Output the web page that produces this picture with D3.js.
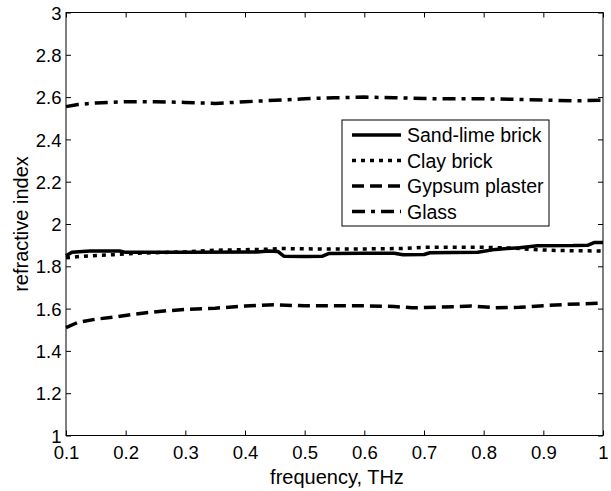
<!DOCTYPE html>
<html>
<head>
<meta charset="utf-8">
<script src="https://cdn.jsdelivr.net/npm/d3@7"></script>
<style>
html,body{margin:0;padding:0;background:#fff;}
text{font-family:"Liberation Sans",Arial,Helvetica,sans-serif;fill:#000;}
</style>
</head>
<body>
<svg id="chart" width="611" height="491"></svg>
<script>
// ---- data ----
const sandLimeX = [0.100,0.110,0.140,0.190,0.200,0.300,0.420,0.440,0.455,0.465,0.500,0.530,0.540,0.600,0.650,0.665,0.700,0.710,0.790,0.820,0.860,0.890,0.950,0.975,0.985,1.000];
const sandLimeY = [1.850,1.866,1.872,1.872,1.866,1.866,1.868,1.872,1.870,1.848,1.846,1.848,1.860,1.862,1.862,1.855,1.856,1.864,1.866,1.880,1.888,1.897,1.898,1.900,1.912,1.912];

const clayX = [0.10,0.13,0.18,0.22,0.30,0.35,0.43,0.46,0.52,0.60,0.66,0.70,0.80,0.85,0.88,0.92,1.00];
const clayY = [1.840,1.848,1.855,1.862,1.868,1.876,1.880,1.884,1.882,1.882,1.884,1.890,1.890,1.886,1.880,1.875,1.872];

const gypsumX = [0.10,0.12,0.15,0.18,0.21,0.24,0.27,0.30,0.35,0.40,0.45,0.50,0.55,0.60,0.65,0.68,0.72,0.78,0.82,0.86,0.90,0.94,1.00];
const gypsumY = [1.510,1.535,1.550,1.560,1.572,1.582,1.590,1.596,1.602,1.612,1.618,1.613,1.613,1.613,1.610,1.604,1.606,1.612,1.604,1.606,1.614,1.620,1.626];

const glassX = [0.10,0.12,0.15,0.20,0.25,0.30,0.35,0.40,0.45,0.50,0.55,0.60,0.65,0.70,0.75,0.80,0.85,0.90,0.95,1.00];
const glassY = [2.555,2.565,2.572,2.578,2.578,2.575,2.570,2.578,2.585,2.592,2.597,2.600,2.597,2.593,2.592,2.592,2.590,2.586,2.582,2.586];

const seriesNames = ["Sand-lime brick","Clay brick","Gypsum plaster","Glass"];
const xTicks = [0.1,0.2,0.3,0.4,0.5,0.6,0.7,0.8,0.9,1];
const yTicks = [1,1.2,1.4,1.6,1.8,2,2.2,2.4,2.6,2.8,3];
const xLabel = "frequency, THz";
const yLabel = "refractive index";

// ---- layout ----
const L = 66, R = 603, T = 12.5, B = 435.5;
const svg = d3.select("#chart");
const x = d3.scaleLinear().domain([0.1,1]).range([L,R]);
const y = d3.scaleLinear().domain([1,3]).range([B,T]);

const dashes = [null, "4,5", "12,6", "13,6,4,6"];
const data = [
  d3.zip(sandLimeX, sandLimeY),
  d3.zip(clayX, clayY),
  d3.zip(gypsumX, gypsumY),
  d3.zip(glassX, glassY)
];

// frame
svg.append("rect").attr("x",L).attr("y",T).attr("width",R-L).attr("height",B-T)
  .attr("fill","none").attr("stroke","#000").attr("stroke-width",1);

const fmt = d => String(+d.toFixed(1));
const tickFont = "18.5px";
// axes (ticks inward)
const gxB = svg.append("g").attr("transform",`translate(0,${B})`)
  .call(d3.axisBottom(x).tickValues(xTicks).tickSize(-5).tickPadding(0).tickFormat(fmt));
const gxT = svg.append("g").attr("transform",`translate(0,${T})`)
  .call(d3.axisTop(x).tickValues(xTicks).tickSize(-5).tickFormat(""));
const gyL = svg.append("g").attr("transform",`translate(${L},0)`)
  .call(d3.axisLeft(y).tickValues(yTicks).tickSize(-5).tickFormat(fmt));
const gyR = svg.append("g").attr("transform",`translate(${R},0)`)
  .call(d3.axisRight(y).tickValues(yTicks).tickSize(-5).tickFormat(""));
[gxB,gxT,gyL,gyR].forEach(g=>{
  g.select(".domain").remove();
  g.selectAll(".tick line").attr("stroke","#000").attr("stroke-width",1);
});
gxB.selectAll(".tick text").attr("y",23).attr("dy",null)
  .style("font-size",tickFont).style("font-family",'"Liberation Sans",Arial,sans-serif').attr("fill","#000");
gyL.selectAll(".tick text").attr("x",-4.5).attr("dy","0.36em")
  .style("font-size",tickFont).style("font-family",'"Liberation Sans",Arial,sans-serif').attr("fill","#000");

// lines
const line = d3.line().x(d=>x(d[0])).y(d=>y(d[1]));
data.forEach((d,i)=>{
  svg.append("path").datum(d).attr("d",line)
    .attr("fill","none").attr("stroke","#000").attr("stroke-width",3.5)
    .attr("stroke-linecap","butt").attr("stroke-linejoin","round")
    .attr("stroke-dasharray",dashes[i]);
});

// axis labels
svg.append("text").attr("x",337).attr("y",484).attr("text-anchor","middle")
  .style("font-size","20px").text(xLabel);
svg.append("text").attr("transform",`translate(27.5,${(T+B)/2}) rotate(-90)`)
  .attr("text-anchor","middle").style("font-size","20px").text(yLabel);

// legend
const lg = svg.append("g");
lg.append("rect").attr("x",342).attr("y",120).attr("width",207).attr("height",106)
  .attr("fill","#fff").attr("stroke","#000").attr("stroke-width",1);
seriesNames.forEach((n,i)=>{
  const cy = 135 + i*25.5;
  lg.append("line").attr("x1",352).attr("x2",401).attr("y1",cy).attr("y2",cy)
    .attr("stroke","#000").attr("stroke-width",3.5).attr("stroke-dasharray",dashes[i]);
  lg.append("text").attr("x",407).attr("y",cy).attr("dy","0.36em")
    .style("font-size","19.5px").text(n);
});
</script>
</body>
</html>
